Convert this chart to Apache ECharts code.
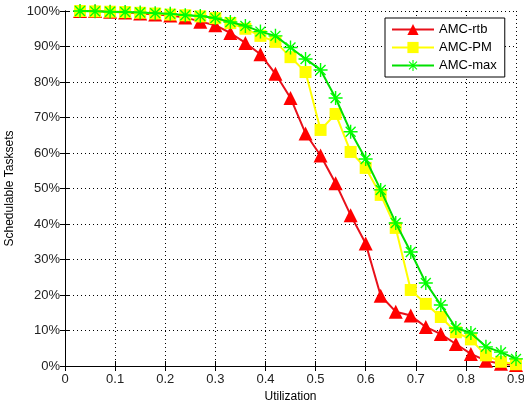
<!DOCTYPE html>
<html>
<head>
<meta charset="utf-8">
<script src="https://cdn.jsdelivr.net/npm/echarts@6/dist/echarts.min.js"></script>
<style>
  html, body { margin: 0; padding: 0; background: #fff; }
  #chart { width: 524px; height: 405px; }
</style>
</head>
<body>
<div id="chart"></div>
<script>
// utilization steps (x)
const utilization = [0.03, 0.06, 0.09, 0.12, 0.15, 0.18, 0.21, 0.24, 0.27, 0.30,
  0.33, 0.36, 0.39, 0.42, 0.45, 0.48, 0.51, 0.54, 0.57, 0.60,
  0.63, 0.66, 0.69, 0.72, 0.75, 0.78, 0.81, 0.84, 0.87, 0.90];

// schedulable tasksets, percent
const amcRtb = [100, 100, 99.8, 99.6, 99.3, 99, 98.7, 98.2, 97, 96,
  93.8, 91, 87.8, 82.3, 75.5, 65.5, 59.3, 51.5, 42.5, 34.5,
  19.8, 15.3, 14.2, 11, 9, 6.2, 3.4, 1.5, 0.6, 0.3];
const amcPm = [100, 99.9, 99.8, 99.7, 99.5, 99.3, 99, 98.8, 98.5, 98,
  96.6, 95, 93, 91.3, 87, 82.8, 66.5, 71, 60.3, 55.8,
  48.2, 38.9, 21.4, 17.5, 13.8, 9.5, 7.5, 3, 1.2, 0.5];
const amcMax = [100, 99.9, 99.8, 99.7, 99.6, 99.4, 99.2, 98.8, 98.6, 98,
  96.9, 95.8, 94.2, 93, 89.7, 86.5, 83.4, 75.5, 66, 58.3,
  49.6, 40.3, 32.1, 23.4, 17.2, 10.7, 9.3, 5.4, 3.9, 2];

const xTicks = ["0", "0.1", "0.2", "0.3", "0.4", "0.5", "0.6", "0.7", "0.8", "0.9"];

const pairs = (ys) => utilization.map((u, i) => [u, ys[i]]);

// 8-armed asterisk like the matlab '*' marker
const asterisk = "path://M0,9L20,9L20,11L0,11Z M9,0L11,0L11,20L9,20Z " +
  "M2.2,3.6L3.6,2.2L17.8,16.4L16.4,17.8Z M16.4,2.2L17.8,3.6L3.6,17.8L2.2,16.4Z";

const chart = echarts.init(document.getElementById("chart"));
const font = "Liberation Sans, Arial, sans-serif";
const dotted = { show: true, lineStyle: { color: "#000", width: 1, type: [1, 3] } };

chart.setOption({
  animation: false,
  backgroundColor: "#fff",
  textStyle: { fontFamily: font },
  grid: { left: 65, right: 8, top: 11, bottom: 39, outerBoundsMode: "none" },
  legend: {
    orient: "vertical",
    left: 385,
    top: 18,
    width: 121,
    padding: [5, 8, 5, 6],
    itemWidth: 42,
    itemHeight: 14,
    itemGap: 5,
    backgroundColor: "#fff",
    borderColor: "#000",
    borderWidth: 1,
    textStyle: { fontSize: 13, color: "#000", fontFamily: font },
    data: ["AMC-rtb", "AMC-PM", "AMC-max"]
  },
  xAxis: [{
    type: "value",
    min: 0, max: 0.9, interval: 0.1,
    name: "Utilization",
    nameLocation: "middle",
    nameGap: 25,
    nameTextStyle: { fontSize: 12, color: "#000" },
    axisLine: { show: true, lineStyle: { color: "#000" } },
    axisTick: { show: true, inside: true, length: 5, lineStyle: { color: "#000" } },
    axisLabel: { fontSize: 13, color: "#222", margin: 7,
      formatter: (v) => xTicks[Math.round(v * 10)] },
    splitLine: dotted
  }, {
    type: "value", position: "top",
    min: 0, max: 0.9, interval: 0.1,
    axisLine: { show: true, lineStyle: { color: "#000" } },
    axisTick: { show: true, inside: true, length: 5, lineStyle: { color: "#000" } },
    axisLabel: { show: false },
    splitLine: { show: false }
  }],
  yAxis: [{
    type: "value",
    min: 0, max: 100, interval: 10,
    name: "Schedulable Tasksets",
    nameLocation: "middle",
    nameGap: 47,
    nameTextStyle: { fontSize: 12, color: "#000" },
    axisLine: { show: true, lineStyle: { color: "#000" } },
    axisTick: { show: true, inside: true, length: 5, lineStyle: { color: "#000" } },
    axisLabel: { fontSize: 13, color: "#222", margin: 5, formatter: "{value}%" },
    splitLine: dotted
  }, {
    type: "value", position: "right",
    min: 0, max: 100, interval: 10,
    axisLine: { show: true, lineStyle: { color: "#000" } },
    axisTick: { show: true, inside: true, length: 5, lineStyle: { color: "#000" } },
    axisLabel: { show: false },
    splitLine: { show: false }
  }],
  series: [{
    name: "AMC-rtb",
    type: "line",
    data: pairs(amcRtb),
    symbol: "triangle",
    symbolSize: 14,
    lineStyle: { color: "#e8101a", width: 2 },
    itemStyle: { color: "#ff0000" },
    z: 2
  }, {
    name: "AMC-PM",
    type: "line",
    data: pairs(amcPm),
    symbol: "rect",
    symbolSize: 12,
    lineStyle: { color: "#ffff00", width: 2 },
    itemStyle: { color: "#ffff00" },
    z: 3
  }, {
    name: "AMC-max",
    type: "line",
    data: pairs(amcMax),
    symbol: asterisk,
    symbolSize: 14,
    lineStyle: { color: "#00e000", width: 2 },
    itemStyle: { color: "#00ff00" },
    z: 4
  }]
});
</script>
</body>
</html>
